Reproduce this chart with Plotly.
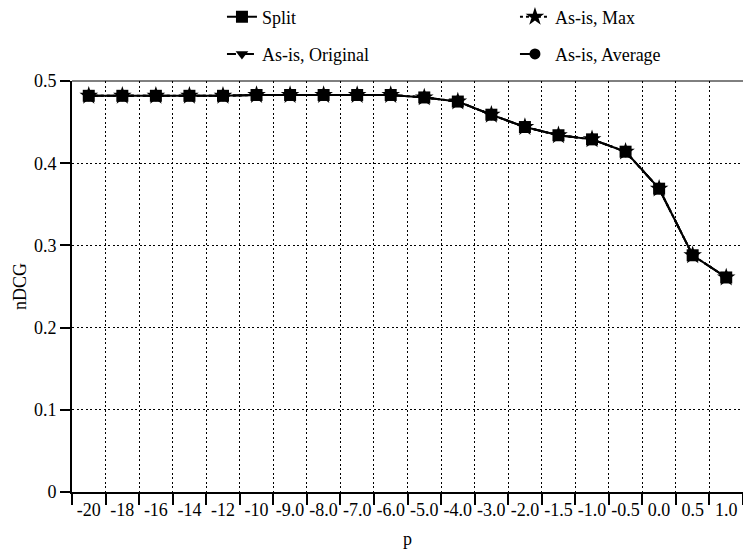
import plotly.graph_objects as go

# ---- data ----
p_labels = ["-20", "-18", "-16", "-14", "-12", "-10", "-9.0", "-8.0", "-7.0", "-6.0",
            "-5.0", "-4.0", "-3.0", "-2.0", "-1.5", "-1.0", "-0.5", "0.0", "0.5", "1.0"]
split_vals = [0.482, 0.482, 0.482, 0.482, 0.482, 0.483, 0.483, 0.483, 0.483, 0.483,
              0.480, 0.475, 0.459, 0.444, 0.434, 0.429, 0.414, 0.369, 0.288, 0.261]
asis_max_vals = [0.482, 0.482, 0.482, 0.482, 0.482, 0.483, 0.483, 0.483, 0.483, 0.483,
                 0.480, 0.475, 0.459, 0.444, 0.434, 0.429, 0.414, 0.369, 0.288, 0.261]
asis_original_vals = [0.482, 0.482, 0.482, 0.482, 0.482, 0.483, 0.483, 0.483, 0.483, 0.483,
                      0.480, 0.475, 0.459, 0.444, 0.434, 0.429, 0.414, 0.369, 0.288, 0.261]
asis_average_vals = [0.482, 0.482, 0.482, 0.482, 0.482, 0.483, 0.483, 0.483, 0.483, 0.483,
                     0.480, 0.475, 0.459, 0.444, 0.434, 0.429, 0.414, 0.369, 0.288, 0.261]
y_ticks = [0, 0.1, 0.2, 0.3, 0.4, 0.5]
y_ticktext = ["0", "0.1", "0.2", "0.3", "0.4", "0.5"]

FONT = "Liberation Serif, Times New Roman, serif"
BLACK = "#000000"

# name, values, dash, symbol, marker size, legend, legend entry width
series = [
    ("Split", split_vals, "solid", "square", 12, "legend", 248),
    ("As-is, Max", asis_max_vals, "dot", "star", 14, "legend", 110),
    ("As-is, Original", asis_original_vals, "dash", "triangle-down", 11, "legend2", 248),
    ("As-is, Average", asis_average_vals, "longdash", "circle", 11, "legend2", 130),
]

fig = go.Figure()
for name, vals, dash, sym, size, leg, lw in series:
    fig.add_trace(go.Scatter(
        x=p_labels, y=vals, name=name, mode="lines+markers",
        line=dict(color=BLACK, width=2, dash=dash),
        marker=dict(symbol=sym, size=size, color=BLACK, line=dict(width=0)),
        legend=leg, legendwidth=lw,
    ))

legend_common = dict(
    orientation="h", xanchor="left", yanchor="middle", yref="container",
    font=dict(family=FONT, size=18, color=BLACK),
    bgcolor="rgba(0,0,0,0)", entrywidthmode="pixels",
    itemwidth=30,
)

fig.update_layout(
    width=743, height=553,
    margin=dict(l=72, r=0, t=81, b=61, autoexpand=False),
    paper_bgcolor="white", plot_bgcolor="white",
    font=dict(family=FONT, size=18, color=BLACK),
    legend=dict(x=0.2235, y=0.969, **legend_common),
    legend2=dict(x=0.2235, y=0.902, **legend_common),
    xaxis=dict(
        type="category", tickson="boundaries", tickangle=0, automargin=False,
        range=[-0.5, len(p_labels) - 0.5],
        title=dict(text="p", font=dict(family=FONT, size=18), standoff=14),
        showline=True, linecolor=BLACK, linewidth=2,
        ticks="outside", ticklen=11, tickwidth=1.5, tickcolor=BLACK,
        showgrid=True, gridcolor=BLACK, gridwidth=1, griddash="2px,2.5px",
        tickfont=dict(family=FONT, size=18, color=BLACK),
        zeroline=False,
    ),
    yaxis=dict(
        range=[0, 0.5], tickvals=y_ticks, ticktext=y_ticktext, automargin=False,
        title=dict(text="nDCG", font=dict(family=FONT, size=18), standoff=3),
        showline=True, linecolor=BLACK, linewidth=2,
        ticks="outside", ticklen=10, tickwidth=1.5, tickcolor=BLACK,
        showgrid=True, gridcolor=BLACK, gridwidth=1, griddash="2px,2.5px",
        tickfont=dict(family=FONT, size=18, color=BLACK),
        zeroline=False,
    ),
    shapes=[dict(type="line", xref="paper", yref="paper", x0=0, x1=1, y0=1, y1=1,
                 line=dict(color=BLACK, width=1))],
)

fig.write_html("out.html")
